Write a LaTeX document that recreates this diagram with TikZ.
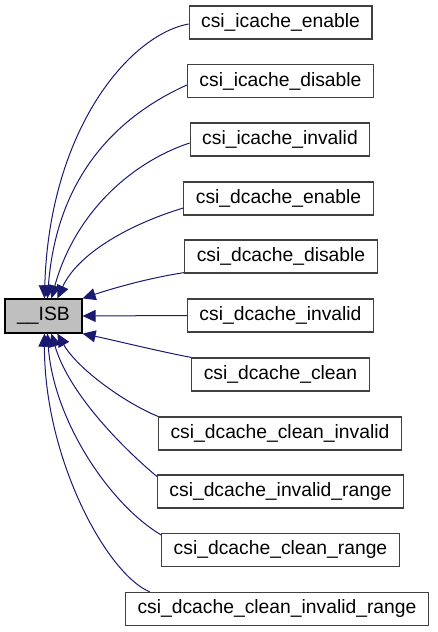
\documentclass[tikz,border=0pt]{standalone}
\usepackage{fontspec}
\setmainfont{Liberation Sans}
\usetikzlibrary{arrows.meta}
\definecolor{edgeblue}{RGB}{25,25,112}
\definecolor{isbgray}{RGB}{191,191,191}
\definecolor{boxline}{RGB}{64,64,64}
\begin{document}
\begin{tikzpicture}[x=1pt, y=-1pt, every node/.style={font=\fontsize{19.3pt}{23pt}\selectfont},
  fnbox/.style={draw=boxline, line width=1.2pt, fill=white, inner xsep=12pt, inner ysep=0pt, minimum height=33pt, anchor=center},
  isbbox/.style={draw=black, line width=1.2pt, fill=isbgray, minimum width=77pt, minimum height=34pt, inner sep=0pt},
  edge/.style={draw=edgeblue, line width=1pt, -{Triangle[length=13pt, width=12pt]}}]
  \useasboundingbox (0,0) rectangle (437,632);
  \node[isbbox] (isb) at (43.5,316) {\_\_ISB};
  \foreach \name/\lbl/\px/\py in {ie/csi\_icache\_enable/280.5/22.5, id/csi\_icache\_disable/280.5/81,
      ii/csi\_icache\_invalid/280/139.5, de/csi\_dcache\_enable/278.5/198.5,
      dd/csi\_dcache\_disable/281/256.5, di/csi\_dcache\_invalid/280.5/315.5,
      dc/csi\_dcache\_clean/280.5/374.5, dci/csi\_dcache\_clean\_invalid/280/433.5,
      dir/csi\_dcache\_invalid\_range/280.5/491.5, dcr/csi\_dcache\_clean\_range/280.5/550,
      dcir/csi\_dcache\_clean\_invalid\_range/277/609}
    \node[fnbox] (\name) at (\px,\py) {\lbl};
  % callers above
  \draw[edge] ([yshift=-1.5pt]ie.west) .. controls +(-59,11) and +(5,-169) .. ([xshift=40pt]isb.north west);
  \draw[edge] ([yshift=-4pt]id.west) .. controls +(-60,27) and +(10,-131) .. ([xshift=43pt]isb.north west);
  \draw[edge] ([yshift=-3.5pt]ii.west) .. controls +(-60,20) and +(23,-84) .. ([xshift=47pt]isb.north west);
  \draw[edge] ([yshift=-9.5pt]de.west) .. controls +(-56,17) and +(20,-44) .. ([xshift=53pt]isb.north west);
  \draw[edge] ([yshift=1pt]dd.south west) .. controls +(-33,5) and +(33,-11) .. (isb.north east);
  \draw[edge] (di.west) -- (isb.east);
  % callers below
  \draw[edge] (dc.north west) .. controls +(-32,-6) and +(33,7) .. (isb.south east);
  \draw[edge] (dci.north west) .. controls +(-34,-14) and +(20,35) .. ([xshift=53pt]isb.south west);
  \draw[edge] ([yshift=-2pt]dir.north west) .. controls +(-30,-25) and +(18,62) .. ([xshift=47pt]isb.south west);
  \draw[edge] ([yshift=-2pt]dcr.north west) .. controls +(-51,-30) and +(6,87) .. ([xshift=43pt]isb.south west);
  \draw[edge] ([xshift=25pt]dcir.north west) .. controls +(-42,-17) and +(0,127) .. ([xshift=40pt]isb.south west);
\end{tikzpicture}
\end{document}
